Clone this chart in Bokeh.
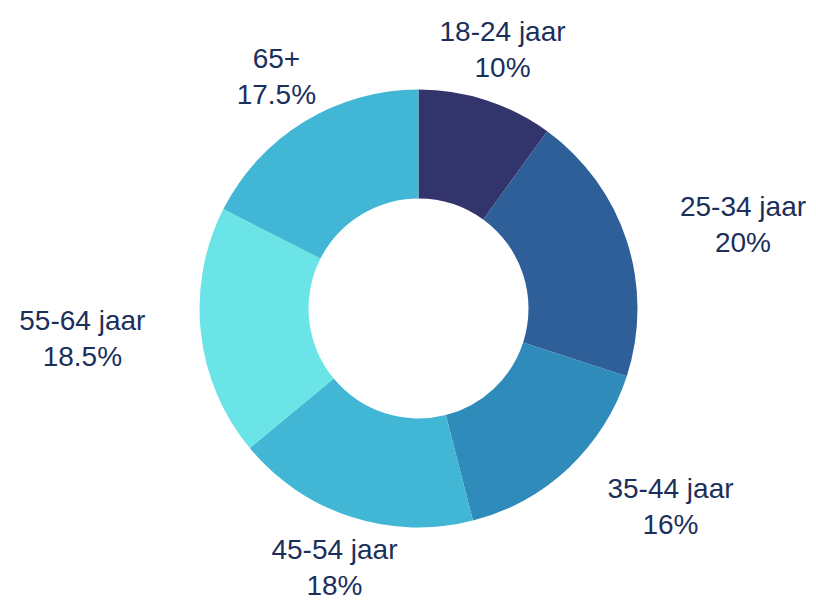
import math
from bokeh.plotting import figure
from bokeh.models import ColumnDataSource, Range1d
from bokeh.core.properties import value
from bokeh.embed import file_html
from bokeh.resources import INLINE

categories = ["18-24 jaar", "25-34 jaar", "35-44 jaar", "45-54 jaar", "55-64 jaar", "65+"]
shares = [10, 20, 16, 18, 18.5, 17.5]
pct_labels = ["10%", "20%", "16%", "18%", "18.5%", "17.5%"]
colors = ["#32346b", "#2e5f98", "#2e8bba", "#42b6d5", "#6ae4e6", "#42b6d5"]

W, H = 816, 600
cx, cy = 418, 292
r_out, r_in = 219, 110
r_lab = 272
fs = 28
font = "Liberation Sans"
text_color = "#1b2f5b"

p = figure(width=W, height=H, output_backend="svg", toolbar_location=None,
           x_range=Range1d(0, W), y_range=Range1d(0, H), min_border=0)
p.axis.visible = False
p.grid.visible = False
p.outline_line_color = None
p.background_fill_color = "white"

total = sum(shares)
starts, ends, lx, ly = [], [], [], []
cum = 0.0
for s, cat in zip(shares, categories):
    a0 = cum / total * 2 * math.pi
    cum += s
    a1 = cum / total * 2 * math.pi
    starts.append(math.pi / 2 - a0)
    ends.append(math.pi / 2 - a1)
    mid = (a0 + a1) / 2
    sx = math.sin(mid)
    half_w = 0.235 * fs * len(cat)
    shift = half_w if sx > 0.6 else (-half_w if sx < -0.6 else 0.0)
    lx.append(cx + r_lab * sx + shift)
    ly.append(cy + r_lab * math.cos(mid))

src = ColumnDataSource(dict(start=starts, end=ends, color=colors))
p.annular_wedge(x=cx, y=cy, inner_radius=r_in, outer_radius=r_out,
                start_angle="start", end_angle="end", direction="clock",
                fill_color="color", line_color=None, source=src)

lsrc = ColumnDataSource(dict(x=lx, y=[v + 18 for v in ly], y2=[v - 18 for v in ly],
                             cat=categories, pct=pct_labels))
p.text(x="x", y="y", text="cat", text_align="center", text_baseline="middle",
       text_font=value(font), text_font_size=f"{fs}px", text_color=text_color, source=lsrc)
p.text(x="x", y="y2", text="pct", text_align="center", text_baseline="middle",
       text_font=value(font), text_font_size=f"{fs}px", text_color=text_color, source=lsrc)

open("out.html", "w").write(file_html(p, INLINE))
